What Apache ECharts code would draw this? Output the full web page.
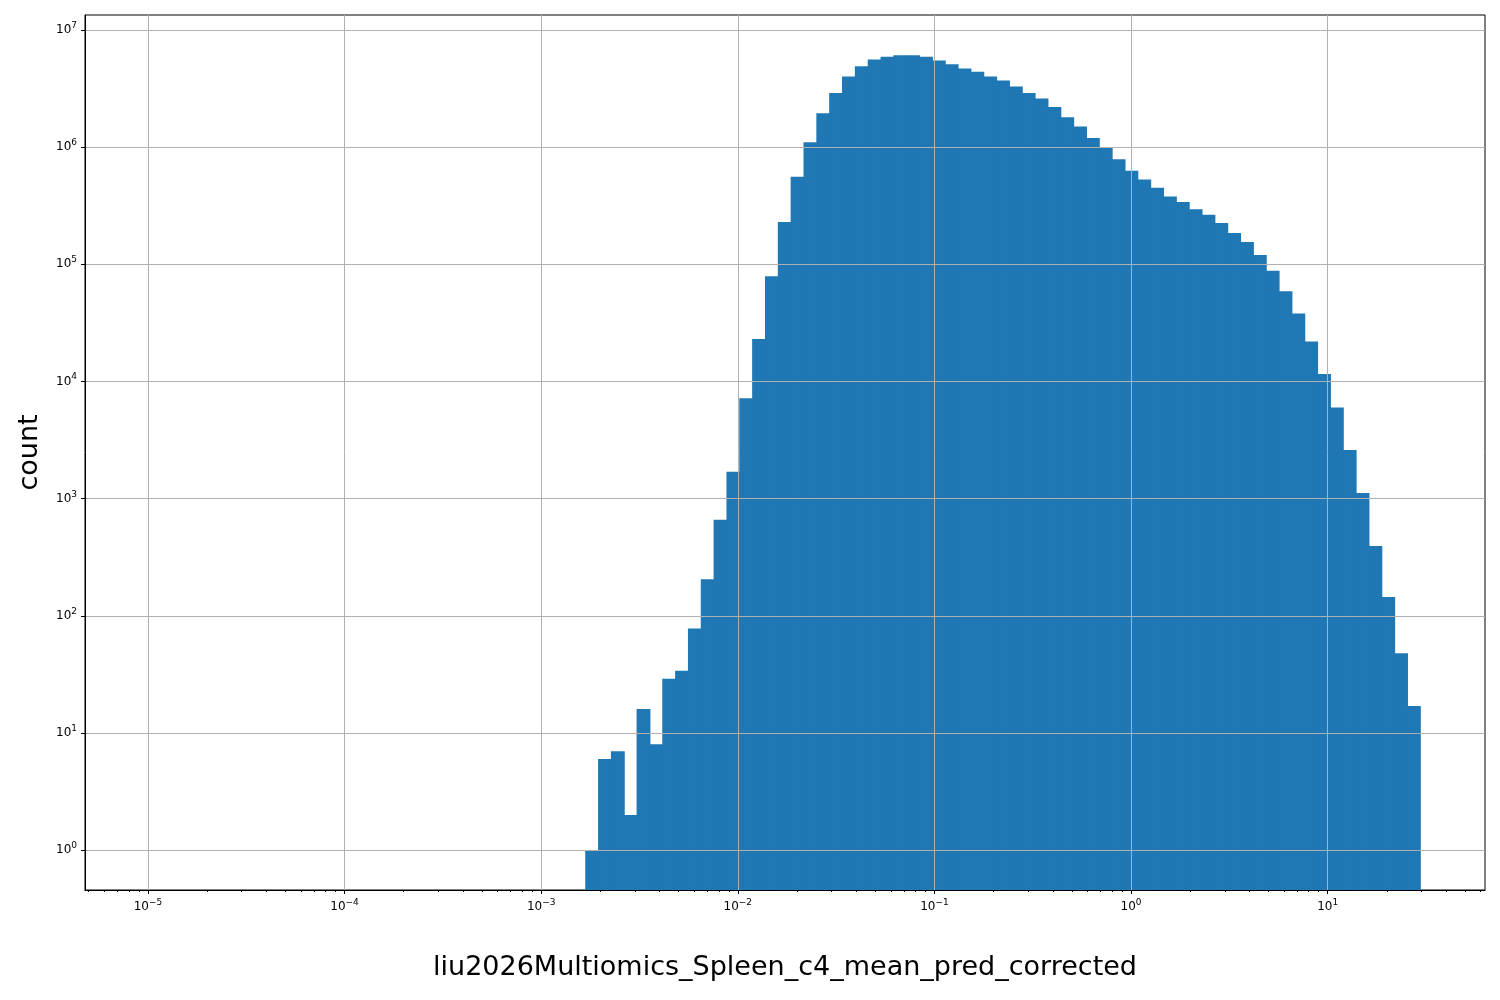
<!DOCTYPE html>
<html><head><meta charset="utf-8">
<script src="https://cdn.jsdelivr.net/npm/echarts@6/dist/echarts.min.js"></script>
<style>html,body{margin:0;padding:0;background:#fff}#c{width:1500px;height:1000px}</style>
</head><body><div id="c"></div>
<script>
// Histogram data: bins in log10(x); first edge and bin width (decades)
const binStartLog = -2.776;
const binWidthLog = 0.0653;
const counts = [1,6,7,2,16,8,29,34,78,205,660,1700,7200,23000,79000,230000,560000,1100000,1950000,2900000,
4000000,4900000,5600000,5900000,6100000,6100000,5900000,5500000,5100000,4700000,4400000,4000000,3700000,3300000,2900000,2600000,2200000,1800000,1500000,1200000,
1000000,790000,630000,530000,450000,380000,340000,295000,265000,225000,185000,155000,120000,88000,59000,38000,22000,11600,6000,2600,
1120,395,145,48,17];
const xTickExps = [-5,-4,-3,-2,-1,0,1];
const yTickExps = [0,1,2,3,4,5,6,7];
const xMinLog = -5.32, xMaxLog = 1.80, yMinLog = -0.34, yMaxLog = 7.128;

const minorX = [];
for (let e = -6; e <= 1; e++) for (let m = 2; m <= 9; m++) {
  const v = e + Math.log10(m);
  if (v > xMinLog && v < xMaxLog) minorX.push(v);
}
const data = counts.map((c, i) => [binStartLog + i*binWidthLog, binStartLog + (i+1)*binWidthLog, Math.log10(c)]);
const sup = v => '{b|10}{s|' + String(v).replace('-', '−') + '}';
const rich = {b:{fontSize:12,color:'#000',fontFamily:'DejaVu Sans'}, s:{fontSize:9,color:'#000',fontFamily:'DejaVu Sans',padding:[0,0,9,0]}};

const chart = echarts.init(document.getElementById('c'));
chart.setOption({
  animation:false,
  grid:{left:85,right:15,top:15,bottom:110,show:true,borderColor:'#000',borderWidth:1,backgroundColor:'transparent'},
  xAxis:[{
    type:'value',min:xMinLog,max:xMaxLog,z:5,
    name:'liu2026Multiomics_Spleen_c4_mean_pred_corrected',nameLocation:'middle',nameGap:64,
    nameTextStyle:{fontSize:27,color:'#000',fontFamily:'DejaVu Sans'},
    axisLine:{show:true,onZero:false,lineStyle:{color:'#000'}},
    axisTick:{show:true,length:4,customValues:xTickExps,lineStyle:{color:'#000'}},
    axisLabel:{customValues:xTickExps,formatter:v=>sup(Math.round(v)),rich:rich,margin:8},
    splitLine:{show:true,lineStyle:{color:'#b0b0b0',width:1}}
  },{
    type:'value',min:xMinLog,max:xMaxLog,position:'bottom',z:5,
    axisLine:{show:false,onZero:false},axisLabel:{show:false},splitLine:{show:false},
    axisTick:{show:true,length:2,customValues:minorX,lineStyle:{color:'#000'}}
  }],
  yAxis:{
    type:'value',min:yMinLog,max:yMaxLog,z:5,
    name:'count',nameLocation:'middle',nameGap:42,
    nameTextStyle:{fontSize:27,color:'#000',fontFamily:'DejaVu Sans'},
    axisLine:{show:true,onZero:false,lineStyle:{color:'#000'}},
    axisTick:{show:true,length:4,customValues:yTickExps,lineStyle:{color:'#000'}},
    axisLabel:{customValues:yTickExps,formatter:v=>sup(Math.round(v)),rich:rich,margin:8},
    splitLine:{show:true,lineStyle:{color:'#b0b0b0',width:1}}
  },
  series:[{
    type:'custom',xAxisIndex:0,
    renderItem:(params, api) => {
      const p0 = api.coord([api.value(0), yMinLog]);
      const p1 = api.coord([api.value(1), api.value(2)]);
      return {type:'rect',shape:{x:p0[0],y:p1[1],width:p1[0]-p0[0]+1,height:p0[1]-p1[1]},
        style:{fill:'#1f77b4'}};
    },
    encode:{x:[0,1],y:2},
    data:data,z:1
  }]
});
</script></body></html>
